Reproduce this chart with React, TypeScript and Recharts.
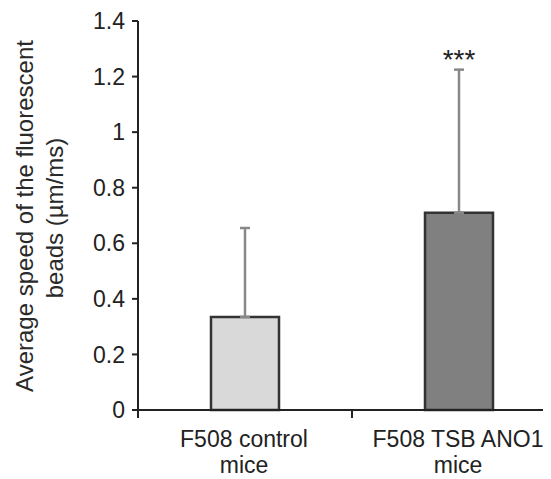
import { ComposedChart, Bar, XAxis, YAxis, ErrorBar, Scatter, Cell } from "recharts"

const categories = ["F508 control\nmice", "F508 TSB ANO1\nmice"]
const means = [0.335, 0.71]
const errors = [0.32, 0.515]
const significance = ["", "***"]
const yTicks = [0, 0.2, 0.4, 0.6, 0.8, 1, 1.2, 1.4]

const barColors = ["#d9d9d9", "#808080"]

const data = categories.map((name, i) => ({
  name,
  mean: means[i],
  err: [0, errors[i]],
  sig: significance[i] ? means[i] + errors[i] : null,
  sigText: significance[i],
}))

const W = 600
const H = 471
const M = { top: 13, right: 42, bottom: 0, left: 0 }
const Y_W = 130
const X_H = 69
const PLOT_BOTTOM = H - M.bottom - X_H
const BAND = (W - M.right - Y_W) / categories.length
const FONT = "'Liberation Sans', Arial, sans-serif"

function XTick(props: any) {
  const { x, payload } = props
  const lines = String(payload.value).split("\n")
  const left = x - BAND / 2
  return (
    <g>
      <line x1={left} y1={PLOT_BOTTOM} x2={left} y2={PLOT_BOTTOM + 8} stroke="#222" strokeWidth={2} />
      {lines.map((l, i) => (
        <text key={i} x={x - 1} y={PLOT_BOTTOM + 37 + i * 26} textAnchor="middle" fontSize={23} fill="#222" fontFamily={FONT}>
          {l}
        </text>
      ))}
    </g>
  )
}

function YLabel() {
  const cy = M.top + 195
  return (
    <g fontFamily={FONT} fontSize={24} fill="#2a2a2a">
      <text transform={`translate(25,${cy}) rotate(-90)`} textAnchor="middle">
        Average speed of the fluorescent
      </text>
      <text transform={`translate(55,${cy + 2}) rotate(-90)`} textAnchor="middle">
        beads (µm/ms)
      </text>
    </g>
  )
}

function Stars(props: any) {
  const { cx, cy, payload } = props
  if (cy == null || !payload || !payload.sigText) return <g />
  return (
    <text x={cx} y={cy - 1} textAnchor="middle" fontSize={28} fill="#222" fontFamily={FONT}>
      {payload.sigText}
    </text>
  )
}

export default function App() {
  return (
    <div style={{ width: 543, height: H, overflow: "hidden" }}>
      <ComposedChart width={W} height={H} data={data} margin={M}>
        <XAxis
          dataKey="name"
          interval={0}
          height={X_H}
          axisLine={{ stroke: "#222", strokeWidth: 2 }}
          tickLine={false}
          tick={<XTick />}
        />
        <YAxis
          domain={[0, 1.4]}
          ticks={yTicks}
          interval={0}
          width={Y_W}
          tickSize={6}
          tickMargin={7}
          axisLine={{ stroke: "#222", strokeWidth: 2 }}
          tickLine={{ stroke: "#222", strokeWidth: 2 }}
          tick={{ fill: "#222", fontSize: 23, fontFamily: FONT }}
          label={<YLabel />}
        />
        <Bar dataKey="mean" barSize={68} stroke="#333" strokeWidth={2.5} isAnimationActive={false}>
          {data.map((_, i) => (
            <Cell key={i} fill={barColors[i]} />
          ))}
          <ErrorBar dataKey="err" width={5} stroke="#888" strokeWidth={2.5} direction="y" />
        </Bar>
        <Scatter dataKey="sig" shape={<Stars />} isAnimationActive={false} />
      </ComposedChart>
    </div>
  )
}
